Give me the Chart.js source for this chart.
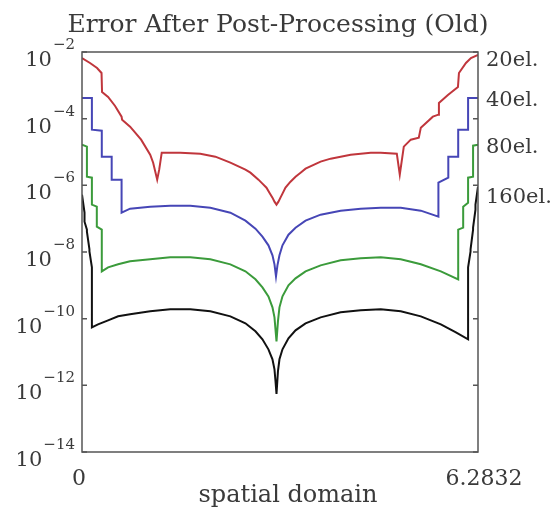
<!DOCTYPE html>
<html>
<head>
<meta charset="utf-8">
<script src="https://cdn.jsdelivr.net/npm/chart.js@4/dist/chart.umd.min.js"></script>
<style>
  body { margin: 0; background: #fff; }
</style>
</head>
<body>
<canvas id="error_chart" width="557" height="511"></canvas>
<script>
// spatial domain positions and log10(error)
const redX = [0, 0.127, 0.239, 0.310, 0.318, 0.414, 0.525, 0.628, 0.636, 0.763, 0.938, 1.082, 1.129, 1.193, 1.225, 1.265, 1.559, 1.877, 2.116, 2.354, 2.593, 2.672, 2.800, 2.863, 2.927, 2.974, 3.022, 3.054, 3.086, 3.117, 3.149, 3.181, 3.229, 3.308, 3.388, 3.468, 3.547, 3.786, 3.945, 4.104, 4.263, 4.422, 4.581, 4.740, 4.995, 5.042, 5.106, 5.217, 5.344, 5.376, 5.567, 5.655, 5.663, 5.806, 5.965, 5.981, 6.092, 6.171, 6.283];
const redLog = [-2.18, -2.33, -2.48, -2.63, -3.20, -3.35, -3.62, -3.94, -4.03, -4.24, -4.63, -5.08, -5.32, -5.83, -5.53, -5.02, -5.02, -5.05, -5.14, -5.32, -5.53, -5.62, -5.83, -5.95, -6.07, -6.22, -6.37, -6.49, -6.58, -6.49, -6.37, -6.25, -6.07, -5.89, -5.74, -5.62, -5.50, -5.29, -5.20, -5.14, -5.08, -5.05, -5.02, -5.02, -5.05, -5.68, -4.84, -4.63, -4.57, -4.27, -3.94, -3.88, -3.53, -3.29, -3.05, -2.63, -2.33, -2.18, -2.09];

const blueX = [0, 0.157, 0.157, 0.314, 0.314, 0.471, 0.471, 0.628, 0.628, 0.763, 1.082, 1.400, 1.718, 2.036, 2.354, 2.593, 2.752, 2.863, 2.958, 3.022, 3.054, 3.078, 3.101, 3.133, 3.181, 3.276, 3.388, 3.547, 3.786, 4.104, 4.422, 4.740, 5.058, 5.376, 5.655, 5.655, 5.812, 5.812, 5.969, 5.969, 6.126, 6.126, 6.283];
const blueLog = [-3.38, -3.38, -4.33, -4.36, -5.14, -5.14, -5.83, -5.83, -6.82, -6.70, -6.64, -6.61, -6.61, -6.67, -6.82, -7.06, -7.30, -7.54, -7.80, -8.10, -8.37, -8.73, -8.40, -8.10, -7.80, -7.48, -7.27, -7.06, -6.88, -6.76, -6.70, -6.67, -6.67, -6.76, -6.94, -5.92, -5.77, -5.14, -5.14, -4.33, -4.33, -3.38, -3.38];

const greenX = [0, 0.078, 0.078, 0.157, 0.157, 0.235, 0.235, 0.314, 0.314, 0.414, 0.573, 0.763, 1.082, 1.400, 1.718, 2.036, 2.354, 2.593, 2.752, 2.863, 2.958, 3.022, 3.054, 3.070, 3.086, 3.109, 3.133, 3.181, 3.276, 3.388, 3.547, 3.786, 4.104, 4.422, 4.740, 5.058, 5.376, 5.694, 5.969, 5.969, 6.048, 6.048, 6.126, 6.126, 6.205, 6.205, 6.283];
const greenLog = [-4.78, -4.84, -5.74, -5.77, -6.58, -6.64, -7.24, -7.33, -8.58, -8.46, -8.37, -8.28, -8.22, -8.16, -8.16, -8.22, -8.37, -8.58, -8.82, -9.06, -9.33, -9.66, -9.96, -10.32, -10.68, -10.08, -9.66, -9.33, -9.00, -8.79, -8.58, -8.40, -8.25, -8.19, -8.16, -8.22, -8.37, -8.58, -8.82, -7.33, -7.27, -6.64, -6.52, -5.77, -5.74, -4.81, -4.78];

const blackX = [0, 0.040, 0.040, 0.078, 0.078, 0.118, 0.118, 0.157, 0.157, 0.254, 0.414, 0.573, 0.763, 1.082, 1.400, 1.718, 2.036, 2.354, 2.593, 2.752, 2.863, 2.958, 3.022, 3.054, 3.070, 3.086, 3.109, 3.133, 3.181, 3.276, 3.388, 3.547, 3.786, 4.104, 4.422, 4.740, 5.058, 5.376, 5.694, 5.933, 6.126, 6.126, 6.165, 6.165, 6.205, 6.205, 6.243, 6.243, 6.283];
const blackLog = [-6.28, -6.82, -7.09, -7.33, -7.39, -7.92, -7.98, -8.46, -10.26, -10.17, -10.05, -9.93, -9.87, -9.78, -9.72, -9.72, -9.78, -9.93, -10.14, -10.38, -10.62, -10.92, -11.22, -11.52, -11.87, -12.26, -11.58, -11.22, -10.92, -10.59, -10.35, -10.14, -9.96, -9.81, -9.75, -9.72, -9.78, -9.93, -10.17, -10.41, -10.62, -8.46, -7.98, -7.92, -7.33, -7.27, -6.73, -6.58, -6.04];

const seriesNames = ['20el.', '40el.', '80el.', '160el.'];
const yTickExps = [-2, -4, -6, -8, -10, -12, -14];
const xTicks = [0, 6.2832];
const xTickLabels = ['0', '6.2832'];

const FONT = '"DejaVu Serif", serif';

function points(xs, logs) {
  return xs.map(function(x, i) { return { x: x, y: Math.pow(10, logs[i]) }; });
}

function line(label, xs, logs, color) {
  return {
    label: label,
    data: points(xs, logs),
    borderColor: color,
    borderWidth: 2,
    pointRadius: 0,
    showLine: true,
    fill: false
  };
}

// frame, ticks and all text
const framePlugin = {
  id: 'frame',
  afterDatasetsDraw(chart) {
    const ctx = chart.ctx;
    const a = chart.chartArea;
    const x = chart.scales.x;
    const y = chart.scales.y;
    ctx.save();

    ctx.strokeStyle = '#555';
    ctx.lineWidth = 1.5;
    ctx.strokeRect(a.left, a.top, a.right - a.left, a.bottom - a.top);

    ctx.fillStyle = '#3a3a3a';
    ctx.textAlign = 'left';
    ctx.textBaseline = 'alphabetic';

    // y ticks 10^-2 ... 10^-14
    yTickExps.forEach(function(p) {
      const py = y.getPixelForValue(Math.pow(10, p));
      ctx.beginPath();
      ctx.moveTo(a.left, py); ctx.lineTo(a.left + 5, py);
      ctx.moveTo(a.right, py); ctx.lineTo(a.right - 5, py);
      ctx.stroke();

      const sup = '\u2212' + Math.abs(p);
      ctx.font = '21px ' + FONT;
      const w1 = ctx.measureText('10').width;
      ctx.font = '15px ' + FONT;
      const w2 = ctx.measureText(sup).width;
      const right = a.left - 7;
      ctx.font = '21px ' + FONT;
      ctx.fillText('10', right - w2 - w1 - 1, py + 14);
      ctx.font = '15px ' + FONT;
      ctx.fillText(sup, right - w2, py - 3);
    });

    // x tick labels
    ctx.font = '22px ' + FONT;
    ctx.textAlign = 'center';
    xTicks.forEach(function(v, i) {
      const px = x.getPixelForValue(v);
      ctx.fillText(xTickLabels[i], px + (i === 0 ? -3 : 6), a.bottom + 33);
    });

    // axis label and title
    ctx.font = '24px ' + FONT;
    ctx.fillText('spatial domain', 288, 502);
    ctx.font = '25px ' + FONT;
    ctx.fillText('Error After Post-Processing (Old)', 278, 32);

    // series names on the right, next to where each curve starts
    ctx.font = '21px ' + FONT;
    ctx.textAlign = 'left';
    ctx.textBaseline = 'middle';
    chart.data.datasets.forEach(function(ds) {
      const py = y.getPixelForValue(ds.data[0].y);
      ctx.fillText(ds.label, a.right + 8, py + 3);
    });

    ctx.restore();
  }
};

const config = {
  type: 'scatter',
  data: {
    datasets: [
      line(seriesNames[0], redX, redLog, '#c0363c'),
      line(seriesNames[1], blueX, blueLog, '#4646b6'),
      line(seriesNames[2], greenX, greenLog, '#3b9b3b'),
      line(seriesNames[3], blackX, blackLog, '#111111')
    ]
  },
  options: {
    responsive: false,
    devicePixelRatio: 1,
    animation: false,
    layout: { padding: { left: 82, right: 79, top: 52, bottom: 59 } },
    plugins: {
      legend: { display: false },
      tooltip: { enabled: false }
    },
    scales: {
      x: { type: 'linear', min: 0, max: 6.2832, display: false },
      y: { type: 'logarithmic', min: 1e-14, max: 1e-2, display: false }
    }
  },
  plugins: [framePlugin]
};

const errorChart = new Chart(document.getElementById('error_chart'), config);
</script>
</body>
</html>
